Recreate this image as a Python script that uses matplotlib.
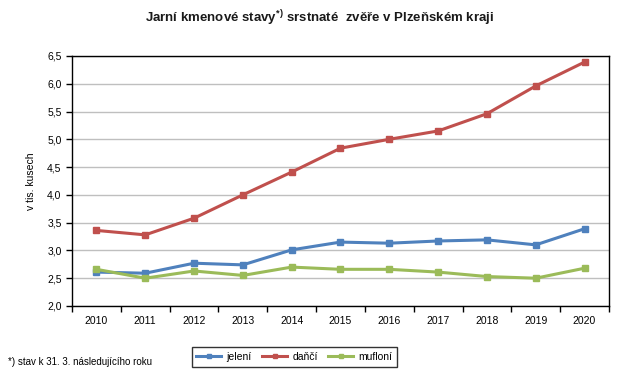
import matplotlib
matplotlib.use('Agg')
import matplotlib.pyplot as plt
import numpy as np

plt.rcParams['font.family'] = ['Liberation Sans', 'DejaVu Sans']
plt.rcParams['mathtext.default'] = 'regular'

years = ['2010', '2011', '2012', '2013', '2014', '2015', '2016', '2017', '2018', '2019', '2020']
jeleni = [2.61, 2.59, 2.77, 2.74, 3.01, 3.15, 3.13, 3.17, 3.19, 3.10, 3.39]
danci = [3.36, 3.28, 3.58, 4.00, 4.41, 4.84, 5.00, 5.15, 5.46, 5.96, 6.39]
mufloni = [2.66, 2.50, 2.63, 2.55, 2.70, 2.66, 2.66, 2.61, 2.53, 2.50, 2.68]

series = [('jelení', jeleni, '#4F81BD'),
          ('daňčí', danci, '#C0504D'),
          ('mufloní', mufloni, '#9BBB59')]

fig = plt.figure(figsize=(6.39, 3.78), dpi=100)
ax = fig.add_axes([0.1127, 0.1905, 0.8403, 0.6615])

x = np.arange(len(years))
for name, vals, col in series:
    ax.plot(x, vals, color=col, linewidth=2.2, marker='s', markersize=5,
            label=name, zorder=3)

ax.set_xlim(-0.5, len(years) - 0.5)
ax.set_ylim(2.0, 6.5)
yt = np.arange(2.0, 6.51, 0.5)
ax.set_yticks(yt)
ax.set_yticklabels([f'{v:.1f}'.replace('.', ',') for v in yt], fontsize=7.5)
ax.yaxis.grid(True, color='#BFBFBF', linewidth=1)
ax.set_axisbelow(True)

ax.set_xticks(np.arange(-0.5, len(years), 1.0))
ax.set_xticklabels([])
ax.set_xticks(x, minor=True)
ax.set_xticklabels(years, minor=True, fontsize=7.5)
ax.tick_params(axis='x', which='minor', length=0, pad=7)
ax.tick_params(axis='both', which='major', direction='out', length=4, width=1, color='black')
for s in ax.spines.values():
    s.set_color('black')
    s.set_linewidth(1)

ax.set_ylabel('v tis. kusech', fontsize=7.5, labelpad=8)

fig.text(0.5, 0.952, 'Jarní kmenové stavy$^{*)}$ srstnaté  zvěře v Plzeňském kraji',
         ha='center', va='center', fontsize=9.5, fontweight='bold', color='#1a1a1a')

fig.text(0.013, 0.042, '*) stav k 31. 3. následujícího roku', fontsize=7, va='center')

leg = fig.legend(loc='center', bbox_to_anchor=(0.461, 0.056), ncol=3, fontsize=7.5,
                 frameon=True, fancybox=False, edgecolor='black', handlelength=2.4,
                 columnspacing=1.0, handletextpad=0.5, borderpad=0.45, markerscale=0.6)
leg.get_frame().set_linewidth(1)

fig.savefig('out.png', dpi=100)
